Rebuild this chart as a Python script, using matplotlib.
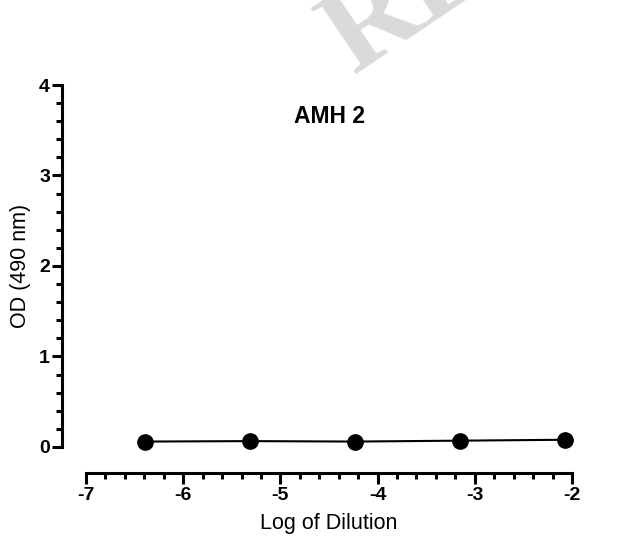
import matplotlib.pyplot as plt
import numpy as np

plt.rcParams['font.family'] = ['Liberation Sans', 'DejaVu Sans']
plt.rcParams['axes.unicode_minus'] = False

# data
log_dilution = [-6.39, -5.31, -4.23, -3.15, -2.07]
od_490 = [0.06, 0.065, 0.06, 0.07, 0.08]
x_ticks = [-7, -6, -5, -4, -3, -2]
y_ticks = [0, 1, 2, 3, 4]

fig = plt.figure(figsize=(6.27, 5.39), dpi=100)
ax = fig.add_axes([0.1372, 0.1707, 0.7751, 0.6716])

# faint diagonal watermark at the top
fig.text(0.565, 0.862, 'REVIEW', family='Liberation Serif', fontweight='bold',
         fontsize=88, color='#d9dada', rotation=34, rotation_mode='anchor',
         ha='left', va='baseline', zorder=0)

ax.plot(log_dilution, od_490, color='black', lw=1.5, marker='o',
        markersize=11, clip_on=False, zorder=3)

ax.set_xlim(-7, -2)
ax.set_ylim(0, 4)
ax.set_xticks(x_ticks)
ax.set_yticks(y_ticks)
ax.set_xticks(np.arange(-7, -1.99, 0.2), minor=True)
ax.set_yticks(np.arange(0, 4.01, 0.2), minor=True)

for s in ['top', 'right']:
    ax.spines[s].set_visible(False)
ax.spines['left'].set_position(('outward', 17))
ax.spines['bottom'].set_position(('outward', 19))
for s in ['left', 'bottom']:
    ax.spines[s].set_linewidth(2.2)
ax.tick_params(which='major', length=7, width=2.2, labelsize=14, pad=2)
ax.tick_params(axis='x', which='major', length=8)
ax.tick_params(which='minor', length=4, width=2.2)
for lab in ax.get_xticklabels() + ax.get_yticklabels():
    lab.set_fontweight('bold')
ax.patch.set_visible(False)

ax.set_xlabel('Log of Dilution', fontsize=15.5, labelpad=6)
ax.set_ylabel('OD (490 nm)', fontsize=15.5, labelpad=6)
ax.text(-4.49, 3.65, 'AMH 2', fontsize=16.5, fontweight='bold',
        ha='center', va='center')

fig.savefig('out.png', dpi=100)
